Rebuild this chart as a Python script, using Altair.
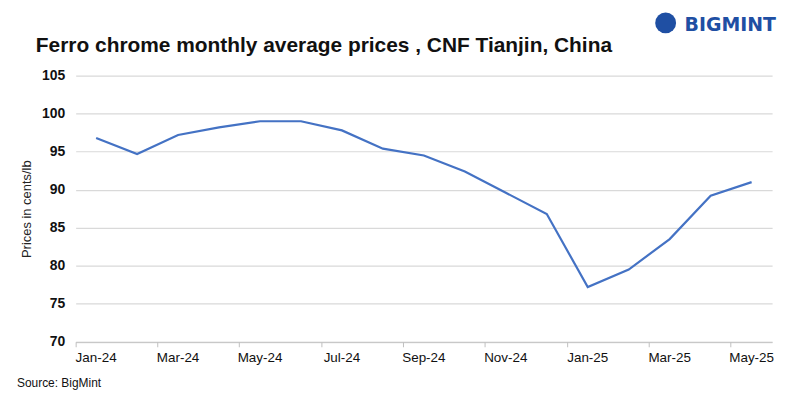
import altair as alt
import pandas as pd

months = ["Jan-24", "Feb-24", "Mar-24", "Apr-24", "May-24", "Jun-24", "Jul-24", "Aug-24",
          "Sep-24", "Oct-24", "Nov-24", "Dec-24", "Jan-25", "Feb-25", "Mar-25", "Apr-25", "May-25"]
prices = [96.8, 94.7, 97.2, 98.2, 99.0, 99.0, 97.8, 95.4,
          94.5, 92.4, 89.6, 86.8, 77.2, 79.5, 83.5, 89.2, 91.0]
tick_labels = ["Jan-24", "Mar-24", "May-24", "Jul-24", "Sep-24", "Nov-24", "Jan-25", "Mar-25", "May-25"]
y_ticks = [70, 75, 80, 85, 90, 95, 100, 105]
title_text = "Ferro chrome monthly average prices , CNF Tianjin, China"

df = pd.DataFrame({"month": months, "price": prices})

W, H = 700, 267.5

line = alt.Chart(df).mark_line(color="#4472C4", strokeWidth=2.2).encode(
    x=alt.X("month:N", sort=months,
            scale=alt.Scale(type="band", paddingInner=0, paddingOuter=0),
            axis=alt.Axis(values=tick_labels, title=None, labelAngle=0,
                          bandPosition=0,
                          domainColor="#bfbfbf", tickColor="#bfbfbf", tickSize=5,
                          labelFont="Liberation Sans", labelFontSize=13.5, labelColor="#111",
                          labelPadding=4, grid=False)),
    y=alt.Y("price:Q", scale=alt.Scale(domain=[70, 105], nice=False, zero=False),
            axis=alt.Axis(values=y_ticks, title="Prices in cents/lb",
                          titleFont="Liberation Sans", titleFontSize=13, titleFontWeight="normal",
                          titleColor="#222", titlePadding=8,
                          labelFont="Liberation Sans", labelFontSize=14, labelFontWeight="bold",
                          labelColor="#111", labelPadding=11,
                          domain=False, ticks=False, gridColor="#d9d9d9", gridWidth=1.2)),
)

title = alt.Chart(alt.Data(values=[{"t": title_text}])).mark_text(
    align="left", baseline="alphabetic", font="Liberation Sans", fontSize=21,
    fontWeight="bold", color="#111"
).encode(text="t:N", x=alt.value(-40), y=alt.value(-24))

source = alt.Chart(alt.Data(values=[{"t": "Source: BigMint"}])).mark_text(
    align="left", baseline="middle", font="Liberation Sans", fontSize=12, color="#111"
).encode(text="t:N", x=alt.value(-59), y=alt.value(309))

logo_icon = alt.Chart(alt.Data(values=[{"t": "o"}])).mark_point(
    shape="circle", filled=True, size=440, color="#1f4fa3", opacity=1
).encode(x=alt.value(593), y=alt.value(-53))

logo_text = alt.Chart(alt.Data(values=[{"t": "BIGMINT"}])).mark_text(
    align="left", baseline="middle", font="DejaVu Sans", fontSize=19, fontWeight="bold",
    color="#1f4fa3"
).encode(text="t:N", x=alt.value(612), y=alt.value(-51))

chart = alt.layer(line, title, source, logo_icon, logo_text).properties(
    width=W, height=H,
    autosize=alt.AutoSizeParams(type="none"),
    padding={"left": 68, "top": 67, "right": 20, "bottom": 50},
).configure_view(stroke=None)

chart.save("out.html", embed_options={"renderer": "svg", "actions": False})
